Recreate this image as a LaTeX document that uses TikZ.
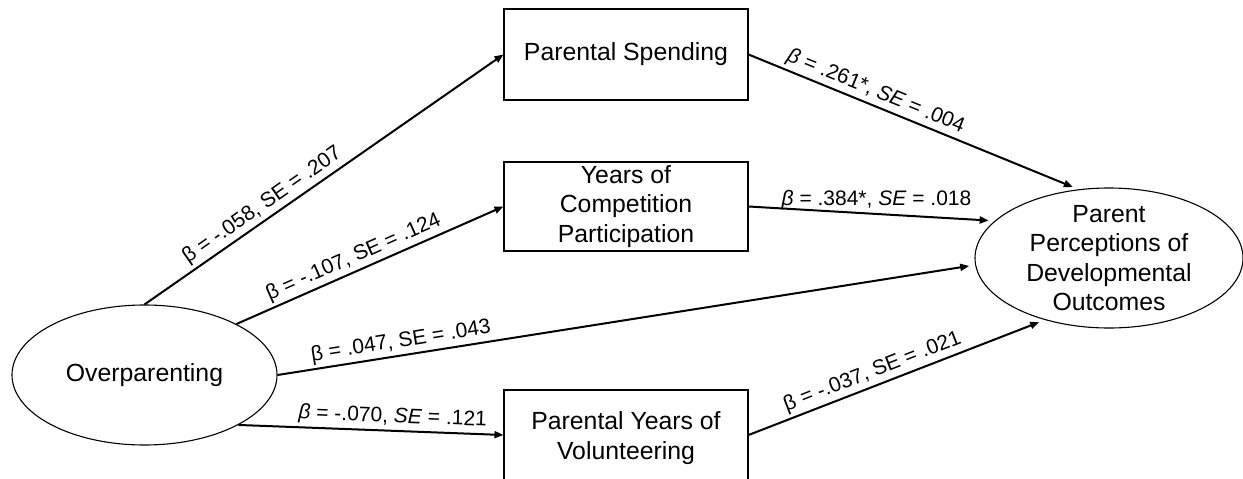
\documentclass[tikz,border=0pt]{standalone}
\usepackage{fontspec}
\setmainfont{Liberation Sans}
\usetikzlibrary{
    arrows.meta,
    shapes.geometric
}

\tikzset{
    varbox/.style={draw, line width=1.1pt, minimum width=244pt, minimum height=90pt,
        inner sep=0pt, align=center, font=\fontsize{24.8}{29.5}\selectfont},
    latent/.style={draw, ellipse, line width=1.1pt, inner sep=0pt},
    latenttext/.style={align=center, inner sep=0pt, font=\fontsize{24.8}{29.5}\selectfont},
    effect/.style={line width=2pt, -{Triangle[length=9pt, width=7pt]}},
    coef/.style={font=\fontsize{21}{25}\selectfont, inner sep=3pt}
}

\begin{document}
\begin{tikzpicture}[x=1pt, y=-1pt]
    \useasboundingbox (0,0) rectangle (1243,479);
    % latent variables
    \node[latent, minimum width=265pt, minimum height=140pt] (over) at (144.5,375) {};
    \node[latenttext] (overtext) at (over) {Overparenting};
    \node[latent, minimum width=268pt, minimum height=140pt] (outc) at (1109,258) {};
    \node[latenttext] (outctext) at (outc) {Parent\\Perceptions of\\Developmental\\Outcomes};
    % mediators
    \node[varbox, minimum height=91pt] (spend) at (626,54.5) {Parental Spending};
    \node[varbox, minimum height=89pt] (years) at (626,206.5) {Years of\\Competition\\Participation};
    \node[varbox, minimum height=96pt] (volun) at (626,438) {Parental Years of\\Volunteering};
    % paths
    \draw[effect] (over.north) -- (spend.west)
        node[coef, sloped, above, pos=0.35] {β = -.058, SE = .207};
    \draw[effect] (over.29) -- (years.west)
        node[coef, sloped, above, pos=0.46] {β = -.107, SE = .124};
    \draw[effect, shorten >=6pt] (over.east) -- (outc.183)
        node[coef, sloped, above, pos=0.18] {β = .047, SE = .043};
    \draw[effect] (over.-28) -- ([yshift=3pt]volun.west)
        node[coef, sloped, above, pos=0.58] {\textit{β} = -.070, \textit{SE} = .121};
    \draw[effect, shorten >=6pt] ([yshift=3pt]volun.east) -- (outc.224)
        node[coef, sloped, above, pos=0.435] {β = -.037, SE = .021};
    \draw[effect, shorten >=6pt] (spend.east) -- (outc.114)
        node[coef, sloped, above, pos=0.37] {\textit{β} = .261*, \textit{SE} = .004};
    \draw[effect, shorten >=6pt] (years.east) -- (outc.162)
        node[coef, above, pos=0.52] {\textit{β} = .384*, \textit{SE} = .018};
\end{tikzpicture}
\end{document}
